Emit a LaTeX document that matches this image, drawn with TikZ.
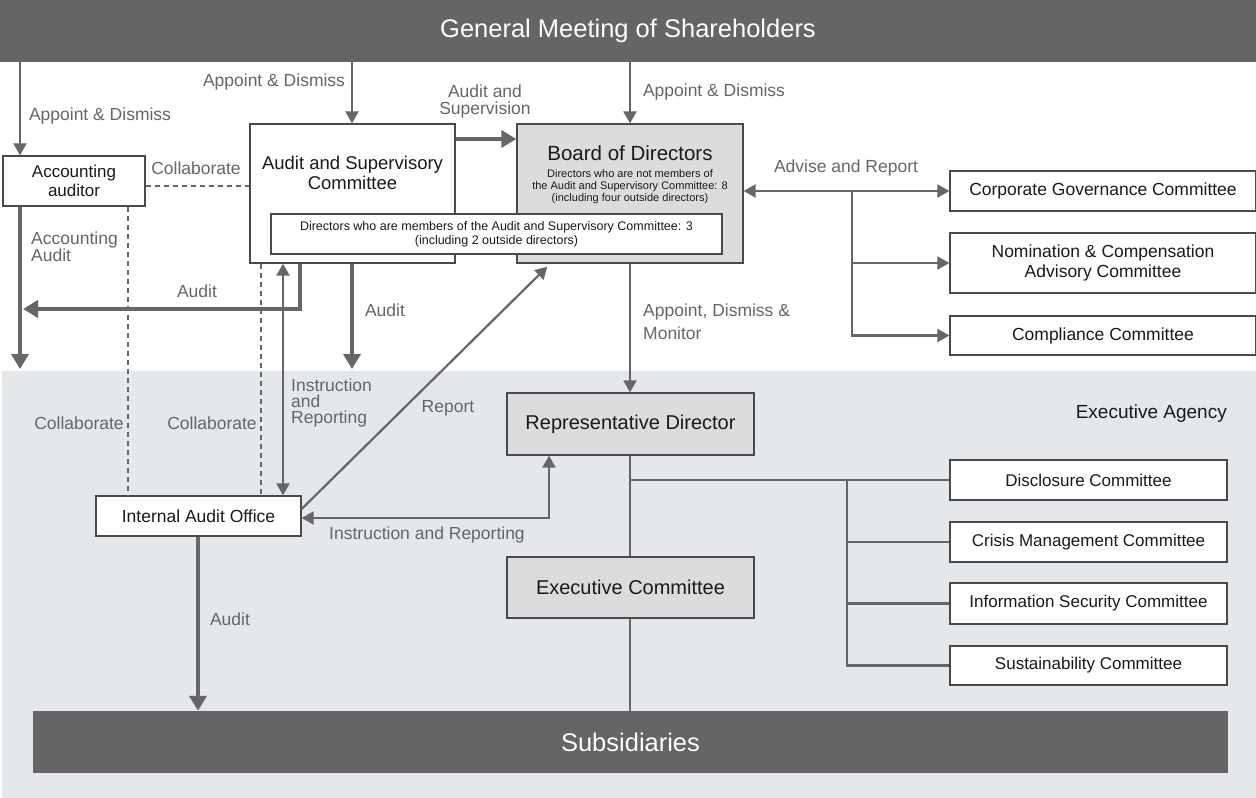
\documentclass[tikz,border=0pt]{standalone}
\usepackage{fontspec}
\setmainfont{Liberation Sans}
\usetikzlibrary{arrows.meta}
\definecolor{barc}{HTML}{666465}
\definecolor{lnc}{HTML}{666666}
\definecolor{lblc}{HTML}{666666}
\definecolor{bgl}{HTML}{E4E8EA}
\definecolor{boxg}{HTML}{DCDCDC}
\definecolor{bdc}{HTML}{4A4A4A}
\definecolor{txc}{HTML}{1A1A1A}
\newcommand{\fs}[2]{\fontsize{#1}{#2}\selectfont}
\begin{document}
\begin{tikzpicture}[x=1pt,y=-1pt,
  box/.style={draw=bdc, line width=1.3pt, fill=white, inner sep=0pt, align=center, text=txc},
  gbox/.style={box, fill=boxg},
  bar/.style={fill=barc, draw=none, inner sep=0pt, text=white, font=\fs{25.5}{28}},
  lab/.style={text=lblc, font=\fs{17.5}{17}, inner sep=0pt, align=left},
  txt/.style={text=txc, inner sep=0pt, align=center},
  thinarr/.style={draw=lnc, line width=2.2pt, -{Triangle[length=12pt,width=13pt]}},
  dblarr/.style={draw=lnc, line width=2.2pt, {Triangle[length=12pt,width=13pt]}-{Triangle[length=12pt,width=13pt]}},
  thickarr/.style={draw=lnc, line width=4.5pt, -{Triangle[length=15pt,width=17pt]}},
  conn/.style={draw=lnc, line width=2.2pt},
  dashline/.style={draw=lnc, line width=1.5pt, dash pattern=on 5pt off 4pt}
]
\useasboundingbox (0,0) rectangle (1256,798);
\fill[white] (0,0) rectangle (1256,798);
\fill[bgl] (2,371) rectangle (1256,798);

% bars
\node[bar, minimum width=1256pt, minimum height=62pt] (top) at (628,31) {General Meeting of Shareholders};
\node[bar, minimum width=1195pt, minimum height=62pt] (sub) at (630.5,742) {Subsidiaries};

% boxes
\node[box, minimum width=142pt, minimum height=50pt, font=\fs{17}{19}] (acc) at (74,181) {Accounting\\auditor};
\node[box, minimum width=205pt, minimum height=139pt] (asc) at (352.5,193.5) {};
\node[txt, font=\fs{18.5}{20}] (asct) at (352.5,173) {Audit and Supervisory\\Committee};
\node[gbox, minimum width=226pt, minimum height=139pt] (board) at (630,193.5) {};
\node[txt, font=\fs{20.5}{22}] (boardt) at (630,153) {Board of Directors};
\node[txt, font=\fs{11}{12.2}] (boards) at (630,186.5) {Directors who are not members of\\the Audit and Supervisory Committee: 8\\(including four outside directors)};
\node[box, minimum width=451pt, minimum height=40pt, font=\fs{12.5}{14}] (inner) at (496.5,234) {Directors who are members of the Audit and Supervisory Committee: 3\\(including 2 outside directors)};

\node[box, minimum width=205pt, minimum height=40pt, font=\fs{17.5}{19}] (iao) at (198.5,516) {Internal Audit Office};
\node[gbox, minimum width=247pt, minimum height=62pt, font=\fs{20}{22}] (rep) at (630.5,424) {Representative Director};
\node[gbox, minimum width=247pt, minimum height=61pt, font=\fs{20}{22}] (exec) at (630.5,587.5) {Executive Committee};

\node[box, minimum width=306pt, minimum height=40pt, font=\fs{17.5}{20}] (cg) at (1103,191) {Corporate Governance Committee};
\node[box, minimum width=306pt, minimum height=60pt, font=\fs{17.5}{20}] (nom) at (1103,263) {Nomination \& Compensation\\Advisory Committee};
\node[box, minimum width=306pt, minimum height=39pt, font=\fs{17.5}{20}] (comp) at (1103,335.5) {Compliance Committee};

\node[box, minimum width=277pt, minimum height=40pt, font=\fs{17}{19}] (disc) at (1088.5,480) {Disclosure Committee};
\node[box, minimum width=277pt, minimum height=40pt, font=\fs{17}{19}] (crisis) at (1088.5,542) {Crisis Management Committee};
\node[box, minimum width=277pt, minimum height=41pt, font=\fs{17}{19}] (info) at (1088.5,603.5) {Information Security Committee};
\node[box, minimum width=277pt, minimum height=39pt, font=\fs{17}{19}] (sust) at (1088.5,665.5) {Sustainability Committee};

\node[txt, anchor=east, font=\fs{19}{21}] (ea) at (1227,414) {Executive Agency};

% coordinates
\coordinate (xa) at (20,0);
\coordinate (xa2) at (23,0);
\coordinate (xd1) at (128,0);
\coordinate (xd2) at (261,0);
\coordinate (xir) at (283,0);
\coordinate (xau) at (300,0);
\coordinate (xasc) at (352,0);
\coordinate (xbd) at (630,0);
\coordinate (xia) at (198,0);
\coordinate (xrep) at (549,0);
\coordinate (xbr1) at (852,0);
\coordinate (xbr2) at (847,0);
\coordinate (yag) at (0,369);
\coordinate (yau) at (0,309);
\coordinate (ysup) at (0,139);
\coordinate (ycol) at (0,186);
\coordinate (yir) at (0,518);

% connectors
\draw[thinarr] (top.south -| xa) -- (acc.north -| xa);
\draw[thinarr] (top.south -| xasc) -- (asc.north -| xasc);
\draw[thinarr] (top.south -| xbd) -- (board.north -| xbd);
\draw[thickarr] (asc.east |- ysup) -- (board.west |- ysup);
\draw[thickarr] (acc.south -| xa) -- (xa |- yag);
\draw[dashline] (acc.south -| xd1) -- (iao.north -| xd1);
\draw[dashline] (acc.east |- ycol) -- (asc.west |- ycol);
\draw[thickarr] (asc.south -| xau) -- (xau |- yau) -- (xa2 |- yau);
\draw[dashline] (asc.south -| xd2) -- (iao.north -| xd2);
\draw[dblarr] (asc.south -| xir) -- (iao.north -| xir);
\draw[thickarr] (asc.south -| xasc) -- (xasc |- yag);
\draw[thinarr] ([yshift=7pt]iao.east) -- ([xshift=31pt,yshift=-3pt]board.south west);
\draw[dblarr] (iao.east |- yir) -- (xrep |- yir) -- (rep.south -| xrep);
\draw[thickarr] (iao.south -| xia) -- (sub.north -| xia);
\draw[thinarr] (board.south -| xbd) -- (rep.north -| xbd);
\draw[conn] (rep.south -| xbd) -- (exec.north -| xbd);
\draw[conn] (exec.south -| xbd) -- (sub.north -| xbd);
\draw[conn] (xbd |- disc.west) -- (disc.west);
\draw[conn] (xbr2 |- disc.west) -- (xbr2 |- sust.west) -- (sust.west);
\draw[conn] (xbr2 |- crisis.west) -- (crisis.west);
\draw[conn] (xbr2 |- info.west) -- (info.west);
\draw[dblarr] (board.east |- cg.west) -- (cg.west);
\draw[thinarr] (xbr1 |- cg.west) -- (xbr1 |- comp.west) -- (comp.west);
\draw[thinarr] (xbr1 |- nom.west) -- (nom.west);

% labels
\node[lab] (l1) at (100,116) {Appoint \& Dismiss};
\node[lab] (l2) at (274,82) {Appoint \& Dismiss};
\node[lab] (l3) at (714,92) {Appoint \& Dismiss};
\node[lab, align=center, font=\fs{17.5}{17}] (l4) at (485,101.5) {Audit and\\Supervision};
\node[lab] (l5) at (196,168) {Collaborate};
\node[lab, anchor=west] (l6) at (31,247) {Accounting\\Audit};
\node[lab] (l7) at (197,291) {Audit};
\node[lab] (l8) at (385,310) {Audit};
\node[lab] (l9) at (846,168) {Advise and Report};
\node[lab, anchor=west, font=\fs{17.5}{23}] (l10) at (643,322) {Appoint, Dismiss \&\\Monitor};
\node[lab, anchor=west, font=\fs{17.5}{16}] (l11) at (291,403) {Instruction\\and\\Reporting};
\node[lab] (l12) at (448,408) {Report};
\node[lab] (l13) at (79,423) {Collaborate};
\node[lab] (l14) at (212,423) {Collaborate};
\node[lab] (l15) at (427,535) {Instruction and Reporting};
\node[lab] (l16) at (230,619) {Audit};
\end{tikzpicture}
\end{document}
